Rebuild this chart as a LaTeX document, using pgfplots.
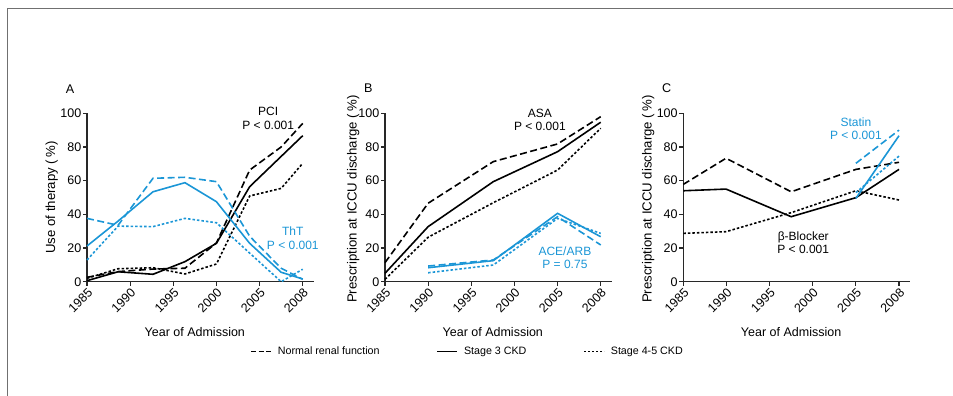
\documentclass[border=0pt]{standalone}
\usepackage{fontspec}
\setmainfont{Liberation Sans}
\usepackage{pgfplots}
\pgfplotsset{compat=1.18}
\definecolor{cblue}{RGB}{27,150,214}
\definecolor{framegrey}{RGB}{112,112,112}
\definecolor{axgrey}{RGB}{40,40,40}
\tikzset{
 ann/.style={align=center, font=\fontsize{12}{13.3}\selectfont},
 letter/.style={font=\fontsize{12.6}{14}\selectfont},
 nrf/.style={black, line width=1.6pt, dash pattern=on 7pt off 3.5pt},
 s3/.style={black, line width=1.6pt},
 s45/.style={black, line width=1.6pt, dash pattern=on 2.5pt off 2pt},
 bnrf/.style={cblue, line width=1.6pt, dash pattern=on 7pt off 3.5pt},
 bs3/.style={cblue, line width=1.6pt},
 bs45/.style={cblue, line width=1.6pt, dash pattern=on 2.5pt off 2pt},
}
\pgfplotsset{
 panel/.style={
  scale only axis, width=226.5pt, height=168.4pt,
  xmin=0, xmax=5.25, ymin=0, ymax=100,
  axis lines=left, axis line style={-, line width=1.2pt, axgrey},
  xtick={0,...,5}, xticklabels={1985,1990,1995,2000,2005,2008},
  ytick={0,20,...,100},
  tick align=outside, major tick length=4pt,
  every tick/.style={line width=1.2pt, axgrey},
  /pgf/number format/assume math mode=true,
  tick label style={font=\fontsize{12.5}{14}\selectfont},
  xticklabel style={rotate=45, anchor=north east, inner sep=1pt},
  yticklabel style={inner sep=1.5pt},
  xlabel style={font=\fontsize{12.5}{14}\selectfont},
  ylabel style={font=\fontsize{13.2}{15}\selectfont},
  xlabel={Year of Admission},
  xlabel style={at={(axis description cs:0.476,-0.299)}, anchor=center},
  clip=false,
 },
}
\begin{document}
\begin{tikzpicture}[x=1pt,y=1pt]
\useasboundingbox (0,0) rectangle (953,396);
\draw[framegrey, line width=1.7pt] (7.5,0) -- (7.5,387.5) -- (953,387.5);

% Panel A
\begin{axis}[panel, at={(87pt,114.3pt)}, anchor=south west,
  ylabel={Use of therapy (\,\%)},
  ylabel style={at={(axis description cs:-0.156,0.5)}, anchor=center}]
\addplot[nrf] coordinates {(0,2.6)(0.72,6)(1.53,7.5)(2.27,8)(3.0,23)(3.77,66.3)(4.5,80)(5,94)};
\addplot[s3] coordinates {(0,0.6)(0.72,5.9)(1.53,4.4)(2.27,11.9)(3.0,22.8)(3.77,56.4)(4.5,74.4)(5,86.7)};
\addplot[s45] coordinates {(0,2)(0.72,7.7)(1.53,8.3)(2.27,4.6)(3.0,10.5)(3.77,50.9)(4.5,55.4)(5,70.3)};
\addplot[bnrf] coordinates {(0,37.6)(0.72,33.5)(1.53,61.4)(2.27,62)(3.0,59.4)(3.77,27)(4.5,8)(5,1.4)};
\addplot[bs3] coordinates {(0,21.2)(0.72,36)(1.53,53.4)(2.27,58.8)(3.0,47.5)(3.77,22.8)(4.5,5.6)(5,1.6)};
\addplot[bs45] coordinates {(0,12.9)(0.72,33)(1.53,32.7)(2.27,37.6)(3.0,35)(3.77,17)(4.5,0)(5,7.4)};
\node[ann] at (axis cs:4.2,97) {PCI\\P < 0.001};
\node[ann, text=cblue] at (axis cs:4.77,25.75) {ThT\\P < 0.001};
\node[letter] at (axis description cs:-0.075,1.144) {A};
\end{axis}

% Panel B
\begin{axis}[panel, at={(385pt,114.3pt)}, anchor=south west,
  ylabel={Prescription at ICCU discharge (\,\%)},
  ylabel style={at={(axis description cs:-0.14,0.49)}, anchor=center},
  legend columns=3,
  legend style={at={(axis description cs:0.365,-0.416)}, anchor=center, draw=none, fill=none,
    font=\fontsize{10.7}{12}\selectfont,
    /tikz/every odd column/.append style={column sep=4pt},
    /tikz/every even column/.append style={column sep=55pt}},
  legend image code/.code={\draw[#1] (0pt,0pt) -- (20pt,0pt);}]
\addlegendimage{black, line width=1.4pt, dash pattern=on 5pt off 2.5pt}
\addlegendentry{Normal renal function}
\addlegendimage{black, line width=1.4pt}
\addlegendentry{Stage 3 CKD}
\addlegendimage{black, line width=1.4pt, dash pattern=on 2pt off 2pt}
\addlegendentry{Stage 4-5 CKD}
\addplot[nrf, forget plot] coordinates {(0,11.3)(1,46.6)(2.51,71.3)(4,81.8)(5,98)};
\addplot[s3, forget plot] coordinates {(0,5)(1,32.7)(2.51,59.4)(4,77.2)(5,94.7)};
\addplot[s45, forget plot] coordinates {(0,1.4)(1,26.4)(2.51,46.9)(4,66.3)(5,91.1)};
\addplot[bnrf, forget plot] coordinates {(1,9.3)(2.51,12.9)(4,38.6)(5,21.8)};
\addplot[bs3, forget plot] coordinates {(1,8.3)(2.51,12.5)(4,40.6)(5,26.7)};
\addplot[bs45, forget plot] coordinates {(1,5.3)(2.51,9.9)(4,37.6)(5,28.7)};
\node[ann] at (axis cs:3.59,96.25) {ASA\\P < 0.001};
\node[ann, text=cblue] at (axis cs:4.17,14.35) {ACE/ARB\\P = 0.75};
\node[letter] at (axis description cs:-0.074,1.148) {B};
\end{axis}

% Panel C
\begin{axis}[panel, at={(683.3pt,114.3pt)}, anchor=south west,
  ylabel={Prescription at ICCU discharge (\,\%)},
  ylabel style={at={(axis description cs:-0.1545,0.49)}, anchor=center}]
\addplot[nrf] coordinates {(0,57.8)(0.99,73.3)(2.5,53.4)(4,66.7)(5,70.9)};
\addplot[s3] coordinates {(0,54)(0.99,55)(2.5,38.6)(4,49.9)(5,66.7)};
\addplot[s45] coordinates {(0,28.7)(0.99,29.7)(2.5,41)(4,54)(5,48.5)};
\addplot[bnrf] coordinates {(4,70.3)(5,90)};
\addplot[bs3] coordinates {(4,49.5)(5,86.7)};
\addplot[bs45] coordinates {(4,52.9)(5,74.6)};
\node[ann, text=cblue] at (axis cs:4.0,91.05) {Statin\\P < 0.001};
\node[ann] at (axis cs:2.78,23.05) {β-Blocker\\P < 0.001};
\node[letter] at (axis description cs:-0.073,1.148) {C};
\end{axis}
\end{tikzpicture}
\end{document}
